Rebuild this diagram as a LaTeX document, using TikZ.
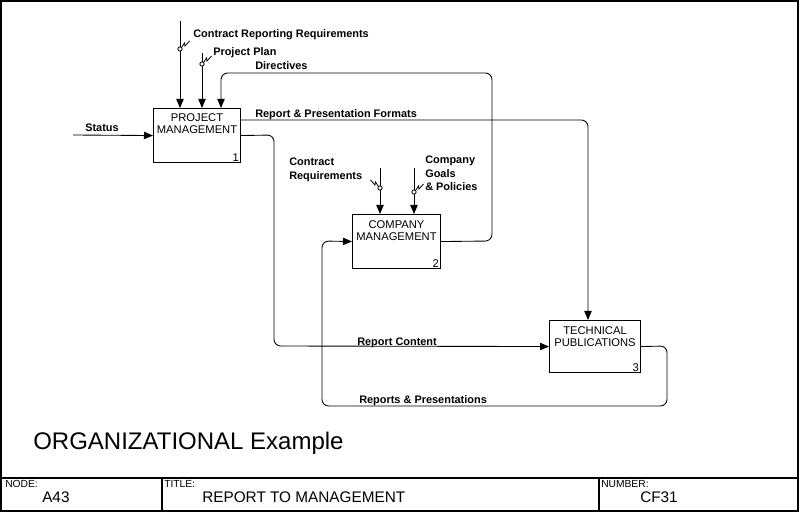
\documentclass[tikz,border=0pt]{standalone}
\usepackage{fontspec}
\setmainfont{Liberation Sans}
\usetikzlibrary{arrows.meta}
\begin{document}
\begin{tikzpicture}[x=0.75pt,y=-0.75pt,
  lbl/.style={font=\fontsize{8.2}{10}\selectfont\bfseries, inner sep=0pt, anchor=base west},
  mlbl/.style={font=\fontsize{8.2}{9.9}\selectfont\bfseries, inner sep=0pt, anchor=north west, align=left},
  actbox/.style={draw, line width=0.8pt, inner sep=0pt, anchor=north west},
  boxtxt/.style={font=\fontsize{8.4}{9}\selectfont, inner sep=0pt, align=center, anchor=north},
  boxnum/.style={font=\fontsize{8.4}{9}\selectfont, inner sep=0pt, anchor=base east},
  flow/.style={draw, line width=0.65pt, rounded corners=5pt, -{Triangle[length=6.75pt,width=5.5pt]}},
  frameline/.style={line width=1pt},
  small/.style={font=\fontsize{7.7}{8}\selectfont, inner sep=0pt, anchor=base west},
  big/.style={font=\fontsize{11.5}{12}\selectfont, inner sep=0pt, anchor=base west},
  tunnel/.pic={\draw[line width=0.6pt, fill=white] (0,0) circle[radius=1.6pt];
               \draw[line width=0.6pt] (1.6,-1.6) -- (4.5,-6) -- (5,-3) -- (9.5,-8);}
]
\useasboundingbox (0,0) rectangle (800,513);

% frame
\draw[frameline] (1,1) rectangle (798,511);
\draw[frameline] (1,478) -- (798,478);
\draw[frameline] (162,478) -- (162,511);
\draw[frameline] (599,478) -- (599,511);

% boxes
\node[actbox, minimum width=65.25pt, minimum height=40.5pt] (pm) at (153,108) {};
\node[actbox, minimum width=66pt, minimum height=40.5pt] (cm) at (352,214) {};
\node[actbox, minimum width=68.25pt, minimum height=39pt] (tp) at (549,320) {};

\node[boxtxt] (pmt) at ([yshift=-4.3pt]pm.north) {PROJECT\\MANAGEMENT};
\node[boxtxt] (cmt) at ([yshift=-4.5pt]cm.north) {COMPANY\\MANAGEMENT};
\node[boxtxt] (tpt) at ([yshift=-4.8pt]tp.north) {TECHNICAL\\PUBLICATIONS};
\node[boxnum] (pmn) at ([shift={(-2,-2)}]pm.south east) {1};
\node[boxnum] (cmn) at ([shift={(-2,-2)}]cm.south east) {2};
\node[boxnum] (tpn) at ([shift={(-2,-2)}]tp.south east) {3};

% free ends
\coordinate (st) at (73,135);
\coordinate (crr) at (180,21);
\coordinate (ppl) at (202,53);
\coordinate (cr) at (380,168);
\coordinate (cg) at (414,168);

% connectors
\draw[flow] (st) -- (pm.west);
\draw[flow] (crr) -- (180,0 |- pm.north);
\draw[flow] (ppl) -- (202,0 |- pm.north);
\draw[flow] (cm.east) -- (492,241) -- (492,73) -- (221,73) -- (221,0 |- pm.north);
\draw[flow] (240,120) -- (588,120) -- (588,0 |- tp.north);
\draw[flow] (pm.east) -- (274,135) -- (274,346) -- (tp.west);
\draw[flow] (tp.east) -- (667,346) -- (667,406) -- (322,406) -- (322,241) -- (cm.west);
\draw[flow] (cr) -- (380,0 |- cm.north);
\draw[flow] (cg) -- (414,0 |- cm.north);

% tunnels
\pic at (180,49) {tunnel};
\pic at (202,64) {tunnel};
\pic[xscale=-1] at (380,188) {tunnel};
\pic at (414,192) {tunnel};

% labels
\node[lbl] (l1) at (193,38) {Contract Reporting Requirements};
\node[lbl] (l2) at (213,56) {Project Plan};
\node[lbl] (l3) at (255,70) {Directives};
\node[lbl] (l4) at (255,118) {Report \& Presentation Formats};
\node[lbl] (l5) at (85,132) {Status};
\node[lbl] (l6) at (357,345) {Report Content};
\node[lbl] (l7) at (359,403) {Reports \& Presentations};
\node[mlbl] (l8) at (289,158) {Contract\\Requirements};
\node[mlbl] (l9) at (425,156) {Company\\Goals\\\& Policies};

% title block
\node[font=\fontsize{18}{20}\selectfont, inner sep=0pt, anchor=base west] (ttl) at (33,449.5) {ORGANIZATIONAL Example};
\node[small] (nodek) at (5,487.5) {NODE:};
\node[big] (nodev) at (42,502.5) {A43};
\node[small] (titk) at (164,487.5) {TITLE:};
\node[big] (titv) at (202,502.5) {REPORT TO MANAGEMENT};
\node[small] (numk) at (601,487.5) {NUMBER:};
\node[big] (numv) at (640,502.5) {CF31};
\end{tikzpicture}
\end{document}
